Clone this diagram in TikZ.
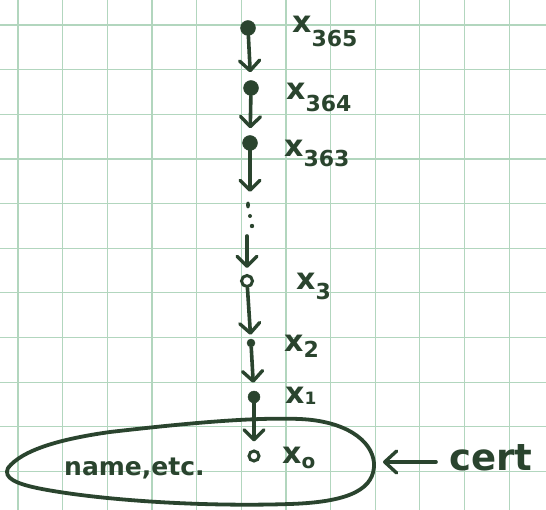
\documentclass[tikz,border=0pt]{standalone}
\usepackage{fontspec}
\setmainfont{DejaVu Sans}
\usetikzlibrary{arrows.meta}
\definecolor{ink}{RGB}{42,68,46}
\definecolor{gridc}{RGB}{178,214,190}
\newcommand{\xlab}[2]{\fontsize{30}{30}\selectfont x\raisebox{-#2pt}{\fontsize{22}{22}\selectfont #1}}
\tikzset{
  dotf/.style={circle,fill=ink,draw=ink,inner sep=0pt,minimum size=#1},
  doto/.style={circle,draw=ink,line width=3pt,fill=white,inner sep=0pt,minimum size=#1},
  lab/.style={anchor=base west,inner sep=0pt,text=ink,font=\bfseries},
  arr/.style={draw=ink,line width=3.6pt,line cap=round,
    -{Straight Barb[length=10pt,width=20pt,line width=3.4pt,line cap=round,line join=round]}},
}
\begin{document}
\begin{tikzpicture}[x=1pt,y=-1pt]
\useasboundingbox (0,0) rectangle (546,510);
\fill[white] (0,0) rectangle (546,510);
% graph paper
\foreach \i in {0,...,11}{
  \draw[gridc,line width=1.2pt] (18+44.65*\i,0) -- (18+44.65*\i,510);
}
\foreach \j in {0,...,10}{
  \draw[gridc,line width=1.2pt] (0,25+44.65*\j) -- (546,25+44.65*\j);
}
% blob
\draw[ink,line width=3.8pt,line join=round]
  (8,468) .. controls (22,450) and (60,439) .. (110,432)
  .. controls (180,424) and (250,417) .. (300,419)
  .. controls (345,421) and (372,440) .. (374,463)
  .. controls (375,488) and (352,502) .. (290,504)
  .. controls (200,507) and (100,500) .. (42,489)
  .. controls (16,484) and (3,478) .. (8,468) -- cycle;
% chain nodes
\node[dotf=15pt] (n365) at (248,28) {};
\node[dotf=15pt] (n364) at (251,88) {};
\node[dotf=15pt] (n363) at (250,143) {};
\coordinate (c1) at (250,192);
\coordinate (c2) at (247,236);
\node[doto=11pt] (n3) at (247,281) {};
\node[dotf=8pt] (n2) at (251,343) {};
\node[dotf=12pt] (n1) at (254,397) {};
\node[doto=10pt] (n0) at (254,456) {};
% vertical ellipsis
\fill[ink] (248,205) ellipse (2pt and 3.5pt);
\fill[ink] (250,216) circle (2pt);
\fill[ink] (252,226) circle (2.2pt);
% arrows
\draw[arr,shorten >=8pt] (n365) -- (n364);
\draw[arr,shorten >=7pt] (n364) -- (n363);
\draw[arr] (n363) -- (c1);
\draw[arr,shorten >=6pt] (c2) -- (n3);
\draw[arr,shorten >=4pt] (n3) -- (n2);
\draw[arr,shorten >=8pt] (n2) -- (n1);
\draw[arr,shorten >=8pt] (n1) -- (n0);
% labels
\node[lab] (l365) at (292,33) {\xlab{365}{14}};
\node[lab] (l364) at (286,100) {\xlab{364}{12}};
\node[lab] (l363) at (284,157) {\xlab{363}{10}};
\node[lab] (l3) at (296,290) {\xlab{3}{10}};
\node[lab] (l2) at (284,352) {\xlab{2}{6}};
\node[lab] (l1) at (285,403) {\fontsize{30}{30}\selectfont x\raisebox{-1pt}{\fontsize{17}{17}\selectfont 1}};
\node[lab] (l0) at (282,463) {\fontsize{30}{30}\selectfont x\raisebox{-5pt}{\fontsize{20}{20}\selectfont o}};
\node[lab] (name) at (64,475) {\fontsize{25}{25}\selectfont name,etc.};
% cert
\node[lab] (cert) at (449,470) {\fontsize{37}{37}\selectfont cert};
\coordinate (certL) at (436,462);
\coordinate (blobE) at (383,462);
\draw[arr,-{Straight Barb[length=12pt,width=22pt,line width=3.4pt,line cap=round,line join=round]}] (certL) -- (blobE);
\end{tikzpicture}
\end{document}
